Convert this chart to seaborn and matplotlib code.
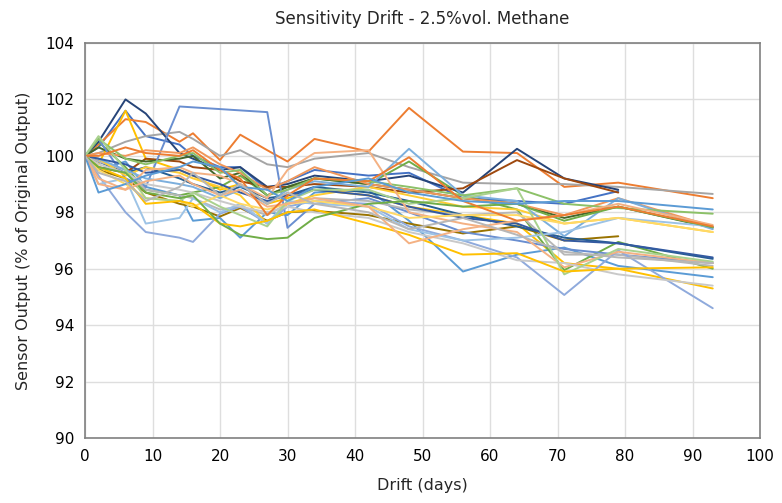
import numpy as np
import pandas as pd
import matplotlib
matplotlib.use("Agg")
import matplotlib.pyplot as plt
import seaborn as sns

nan = np.nan
days = [0, 2, 6, 9, 14, 16, 20, 23, 27, 30, 34, 42, 48, 56, 64, 71, 79, 93]

s01 = [100, 100.3, 101.6, 100.7, 100.4, 100.0, 99.6, 99.6, 98.8, 99.1, 99.5, 99.3, 99.4, 98.5, 98.4, 98.3, 98.75, nan]
s02 = [100, 100.4, 101.3, 101.2, 100.5, 100.8, 99.85, 100.75, 100.2, 99.8, 100.6, 100.15, 101.7, 100.15, 100.1, 98.9, 99.05, 98.5]
s03 = [100, 100.1, 100.5, 100.7, 100.85, 100.6, 100.0, 100.2, 99.7, 99.6, 99.9, 100.1, 99.6, 99.05, 99.0, 99.0, 98.9, 98.65]
s04 = [100, 99.7, 101.6, 99.9, 99.5, 99.3, 98.8, 99.0, 98.3, 98.5, 98.8, 98.6, 98.2, 97.9, 97.6, 96.2, 96.0, 95.3]
s05 = [100, 99.5, 99.8, 98.9, 98.6, 97.7, 97.8, 97.1, 98.0, 97.9, 98.7, 98.8, 97.7, 95.9, 96.5, 96.75, 96.1, 95.7]
s06 = [100, 100.5, 99.6, 98.8, 98.6, 98.7, 98.9, 99.3, 98.6, 98.9, 99.2, 99.0, 99.8, 98.6, 98.1, 95.95, 96.95, 96.0]
s07 = [100, 100.5, 102.0, 101.5, 100.1, 99.9, 99.5, 99.6, 98.9, 99.0, 99.3, 99.1, 99.3, 98.7, 100.25, 99.2, 98.8, nan]
s08 = [100, 99.6, 99.4, 99.9, 99.8, 99.6, 99.5, 99.1, 98.9, 98.9, 99.0, 98.9, 98.7, 98.85, 99.85, 99.2, 98.7, nan]
s09 = [100, 99.5, 99.2, 98.7, 98.3, 98.2, 97.85, 98.15, 97.7, 98.0, 98.05, 97.9, 97.6, 97.25, 97.5, 97.0, 97.15, nan]
s10 = [100, 99.8, 99.4, 99.6, 99.2, 99.0, 98.7, 98.9, 98.5, 98.6, 98.9, 98.7, 98.4, 97.9, 97.5, 97.1, 96.9, 96.35]
s11 = [100, 100.3, 99.9, 99.8, 99.9, 100.0, 99.2, 99.4, 98.6, 98.9, 99.2, 99.0, 98.8, 98.5, 98.3, 97.8, 98.2, 97.45]
s12 = [100, 100.6, 99.2, 98.9, 101.75, nan, nan, nan, 101.55, 97.45, 98.3, 98.5, 98.0, 97.3, 97.0, 96.7, 96.5, 96.2]
s13 = [100, 100.1, 100.0, 100.2, 100.1, 100.3, 99.7, 99.4, 98.8, 99.1, 99.6, 99.0, 98.8, 98.5, 98.3, 97.9, 98.5, 97.5]
s14 = [100, 99.8, 99.5, 98.8, 98.6, 98.5, 98.1, 98.2, 97.9, 98.3, 98.5, 98.4, 98.1, 97.9, 98.0, 96.5, 96.5, 96.1]
s15 = [100, 99.9, 99.3, 99.6, 99.4, 99.2, 98.9, 98.6, 97.6, 98.3, 98.6, 98.9, 98.6, 98.2, 98.1, 97.6, 97.8, 97.3]
s16 = [100, 99.9, 99.5, 99.2, 99.0, 98.9, 98.5, 98.8, 98.3, 98.8, 99.1, 98.9, 100.25, 98.6, 98.4, 97.15, 98.5, 97.4]
s17 = [100, 100.6, 99.9, 99.7, 100.0, 100.1, 99.4, 99.5, 98.6, 98.8, 99.2, 99.1, 98.9, 98.6, 98.85, 98.3, 98.15, 97.95]
s18 = [100, 99.9, 99.7, 99.4, 99.5, 99.3, 99.0, 98.7, 98.4, 98.6, 98.8, 98.6, 98.2, 97.8, 97.6, 97.0, 96.9, 96.4]
s19 = [100, 99.3, 98.0, 97.3, 97.1, 96.95, 97.95, 98.2, 97.6, 98.2, 98.4, 98.3, 97.5, 97.0, 96.4, 95.07, 96.65, 94.6]
s20 = [100, 99.0, 99.2, 97.6, 97.8, 98.5, 98.0, 98.3, 97.6, 98.4, 98.3, 98.2, 97.4, 97.0, 97.1, 97.3, 97.8, 97.5]
s21 = [100, 99.2, 98.8, 99.5, 99.6, 99.4, 99.3, 99.0, 98.5, 99.5, 100.1, 100.2, 98.0, 97.6, 97.3, 96.05, 96.6, 96.2]
s22 = [100, 99.7, 99.4, 99.0, 98.8, 98.7, 98.4, 98.2, 98.0, 98.2, 98.0, 97.8, 97.3, 96.9, 96.3, 96.2, 95.8, 95.4]
s23 = [100, 99.5, 99.0, 98.5, 98.4, 98.2, 98.6, 98.3, 98.1, 98.3, 98.4, 98.2, 97.8, 97.9, 97.9, 97.6, 97.8, 97.3]
s24 = [100, 100.7, 99.5, 98.5, 98.4, 98.7, 98.2, 97.9, 97.5, 98.4, 98.8, 98.8, 98.3, 98.5, 98.85, 95.8, 96.7, 96.25]
s25 = [100, 99.6, 99.2, 98.3, 98.4, 98.3, 97.6, 97.5, 97.7, 98.0, 98.1, 97.6, 97.2, 96.5, 96.55, 95.9, 96.0, 96.05]
s26 = [100, 99.6, 99.4, 98.7, 98.5, 98.6, 97.6, 97.2, 97.05, 97.1, 97.8, 98.3, 98.4, 98.2, 98.3, 97.7, 98.2, 97.47]
s27 = [100, 99.0, 98.8, 99.1, 99.3, 99.0, 98.6, 98.8, 98.2, 98.3, 98.5, 98.2, 96.9, 97.4, 97.7, 97.9, 98.3, 97.55]
s28 = [100, 100.0, 100.3, 100.1, 100.0, 100.2, 99.5, 99.2, 97.9, 98.6, 99.2, 99.1, 99.95, 98.4, 97.7, 97.9, 98.2, 97.5]
s29 = [100, 98.7, 99.0, 99.3, 99.6, 99.8, 99.6, 98.9, 98.8, 98.4, 98.9, 99.2, 98.7, 98.4, 98.3, 98.4, 98.4, 98.1]
s30 = [100, 99.4, 99.1, 98.4, 98.9, 99.4, 98.6, 99.0, 98.3, 98.7, 98.3, 98.0, 97.4, 97.8, 97.2, 96.6, 96.4, 96.2]

series = {
    "S01": (s01, "#4472C4"), "S02": (s02, "#ED7D31"), "S03": (s03, "#A5A5A5"),
    "S04": (s04, "#FFC000"), "S05": (s05, "#5B9BD5"), "S06": (s06, "#70AD47"),
    "S07": (s07, "#264478"), "S08": (s08, "#9E480E"), "S09": (s09, "#997300"),
    "S10": (s10, "#255E91"), "S11": (s11, "#43682B"), "S12": (s12, "#698ED0"),
    "S13": (s13, "#F1975A"), "S14": (s14, "#B7B7B7"), "S15": (s15, "#FFCD33"),
    "S16": (s16, "#7CAFDD"), "S17": (s17, "#8CC168"), "S18": (s18, "#335AA1"),
    "S19": (s19, "#8FAADC"), "S20": (s20, "#9DC3E6"), "S21": (s21, "#F4B183"),
    "S22": (s22, "#C9C9C9"), "S23": (s23, "#FFD966"), "S24": (s24, "#A9D18E"),
    "S25": (s25, "#FFC000"), "S26": (s26, "#70AD47"), "S27": (s27, "#F4B183"),
    "S28": (s28, "#ED7D31"), "S29": (s29, "#5B9BD5"), "S30": (s30, "#B7B7B7"),
}

rows = []
for name, (vals, col) in series.items():
    for d, v in zip(days, vals):
        rows.append({"series": name, "day": d, "value": v})
df = pd.DataFrame(rows).dropna()
palette = {k: c for k, (v, c) in series.items()}

sns.set_theme(style="white")
plt.rcParams["font.family"] = ["DejaVu Sans"]

fig = plt.figure(figsize=(7.82, 5.03), dpi=100)
ax = fig.add_axes([85 / 782, 1 - 438 / 503, (760 - 85) / 782, (438 - 43) / 503])

sns.lineplot(data=df, x="day", y="value", hue="series", palette=palette,
             estimator=None, sort=False, legend=False, linewidth=1.4, ax=ax)

ax.set_xlim(0, 100)
ax.set_ylim(90, 104)
ax.set_xticks(np.arange(0, 101, 10))
ax.set_yticks(np.arange(90, 105, 2))
ax.grid(True, color="#DEDEDE", linewidth=1.0)
ax.set_axisbelow(True)
for s in ax.spines.values():
    s.set_color("#808080")
    s.set_linewidth(1.2)
ax.tick_params(axis="both", length=0, labelsize=11, colors="#000000", pad=8)
ax.set_xlabel("Drift (days)", fontsize=11.5, labelpad=10)
ax.set_ylabel("Sensor Output (% of Original Output)", fontsize=11.5, labelpad=10)
ax.set_title("Sensitivity Drift - 2.5%vol. Methane", fontsize=12, pad=14)

fig.savefig("out.png", dpi=100)
